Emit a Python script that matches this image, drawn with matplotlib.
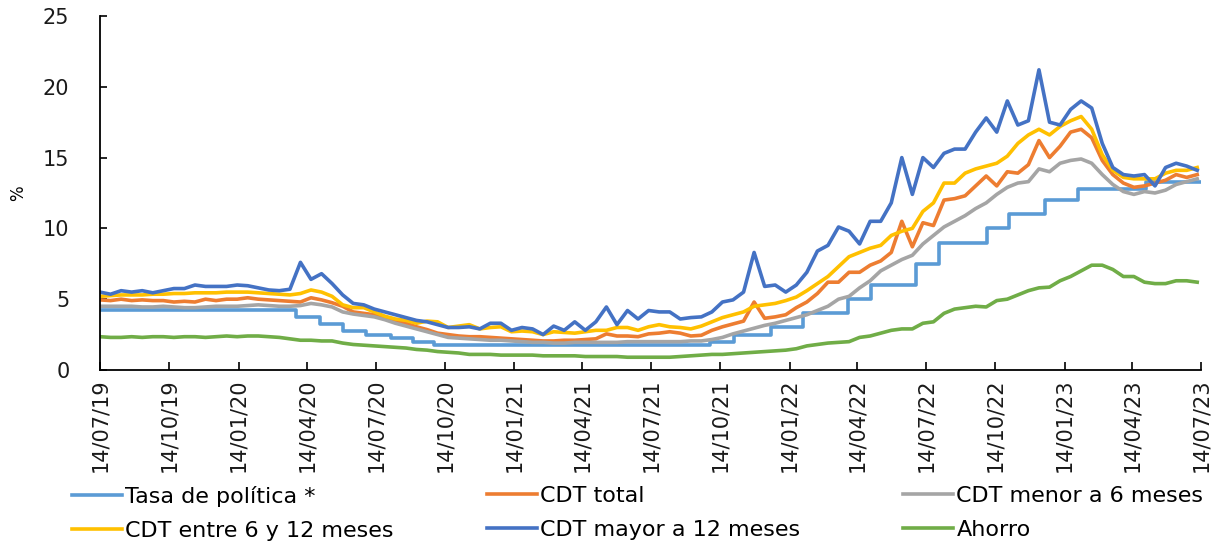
import numpy as np
import pandas as pd
import matplotlib
matplotlib.use('Agg')
import matplotlib.pyplot as plt
import matplotlib.dates as mdates

# fechas quincenales desde 14/07/19
fechas = pd.date_range('2019-07-14', periods=105, freq='14D')

# tasa de politica (fechas de cambio)
fechas_politica = pd.to_datetime([
    '2019-07-14', '2020-03-30', '2020-05-01', '2020-06-01', '2020-07-01',
    '2020-08-03', '2020-09-01', '2020-09-29', '2021-10-01', '2021-11-01',
    '2021-12-20', '2022-02-01', '2022-04-01', '2022-05-02', '2022-07-01',
    '2022-08-01', '2022-10-03', '2022-11-01', '2022-12-19', '2023-02-01',
    '2023-05-02', '2023-07-14'])
tasa_politica = [4.25, 3.75, 3.25, 2.75, 2.50, 2.25, 2.00, 1.75, 2.00, 2.50,
                 3.00, 4.00, 5.00, 6.00, 7.50, 9.00, 10.00, 11.00, 12.00, 12.75,
                 13.25, 13.25]

cdt_total = [
    4.95, 4.9, 5.0, 4.9, 4.95, 4.9, 4.9, 4.8, 4.85, 4.8, 5.0, 4.9, 5.0, 5.0, 5.1,
    5.0, 4.95, 4.9, 4.85, 4.8, 5.1, 4.95, 4.75, 4.5, 4.1, 4.0, 3.9, 3.7, 3.5, 3.3,
    3.05, 2.85, 2.6, 2.5, 2.4, 2.35, 2.35, 2.3, 2.25, 2.2, 2.15, 2.1, 2.05, 2.05, 2.1,
    2.1, 2.15, 2.2, 2.55, 2.4, 2.4, 2.35, 2.55, 2.6, 2.7, 2.6, 2.4, 2.45, 2.8, 3.05,
    3.25, 3.45, 4.8, 3.65, 3.75, 3.9, 4.4, 4.8, 5.4, 6.2, 6.2, 6.9, 6.9, 7.4, 7.7,
    8.3, 10.5, 8.7, 10.4, 10.2, 12.0, 12.1, 12.3, 13.0, 13.7, 13.0, 14.0, 13.9, 14.5, 16.2,
    15.0, 15.8, 16.8, 17.0, 16.4, 14.8, 13.8, 13.2, 12.9, 13.0, 13.2, 13.4, 13.8, 13.6, 13.8]

cdt_menor_6m = [
    4.5, 4.5, 4.5, 4.5, 4.45, 4.45, 4.5, 4.45, 4.4, 4.4, 4.45, 4.5, 4.5, 4.5, 4.55,
    4.6, 4.55, 4.5, 4.5, 4.55, 4.7, 4.6, 4.45, 4.1, 3.95, 3.85, 3.75, 3.55, 3.3, 3.1,
    2.9, 2.7, 2.5, 2.3, 2.25, 2.2, 2.15, 2.1, 2.1, 2.05, 2.0, 1.95, 1.95, 1.9, 1.9,
    1.95, 1.95, 1.95, 1.95, 1.95, 2.0, 2.0, 2.0, 2.0, 2.0, 2.0, 2.05, 2.05, 2.15, 2.3,
    2.55, 2.75, 2.95, 3.15, 3.3, 3.5, 3.7, 3.9, 4.2, 4.5, 5.0, 5.2, 5.8, 6.3, 7.0,
    7.4, 7.8, 8.1, 8.9, 9.5, 10.1, 10.5, 10.9, 11.4, 11.8, 12.4, 12.9, 13.2, 13.3, 14.2,
    14.0, 14.6, 14.8, 14.9, 14.6, 13.8, 13.1, 12.6, 12.4, 12.6, 12.5, 12.7, 13.1, 13.3, 13.5]

cdt_6_12m = [
    5.2, 5.25, 5.3, 5.3, 5.3, 5.35, 5.35, 5.4, 5.4, 5.45, 5.45, 5.45, 5.5, 5.5, 5.5,
    5.45, 5.4, 5.35, 5.3, 5.4, 5.65, 5.5, 5.2, 4.6, 4.4, 4.4, 4.1, 3.8, 3.6, 3.5,
    3.3, 3.45, 3.4, 3.0, 3.1, 3.2, 2.9, 3.0, 3.05, 2.7, 2.75, 2.7, 2.5, 2.7, 2.65,
    2.6, 2.7, 2.8, 2.8, 3.0, 3.0, 2.8, 3.05, 3.2, 3.05, 3.0, 2.9, 3.1, 3.4, 3.7,
    3.9, 4.1, 4.5, 4.6, 4.7, 4.9, 5.15, 5.6, 6.1, 6.6, 7.3, 8.0, 8.3, 8.6, 8.8,
    9.5, 9.8, 10.0, 11.2, 11.8, 13.2, 13.2, 13.9, 14.2, 14.4, 14.6, 15.1, 16.0, 16.6, 17.0,
    16.6, 17.2, 17.6, 17.9, 17.0, 15.2, 14.1, 13.6, 13.5, 13.5, 13.5, 13.9, 14.1, 14.1, 14.3]

cdt_mayor_12m = [
    5.5, 5.35, 5.6, 5.5, 5.6, 5.45, 5.6, 5.75, 5.75, 6.0, 5.9, 5.9, 5.9, 6.0, 5.95,
    5.8, 5.65, 5.6, 5.7, 7.6, 6.4, 6.8, 6.1, 5.3, 4.7, 4.6, 4.3, 4.1, 3.9, 3.7,
    3.5, 3.4, 3.2, 3.0, 3.0, 3.05, 2.9, 3.3, 3.3, 2.8, 3.0, 2.9, 2.5, 3.1, 2.8,
    3.4, 2.8, 3.4, 4.45, 3.2, 4.2, 3.6, 4.2, 4.1, 4.1, 3.6, 3.7, 3.75, 4.1, 4.8,
    4.95, 5.5, 8.3, 5.9, 6.0, 5.5, 6.0, 6.9, 8.4, 8.8, 10.1, 9.8, 8.9, 10.5, 10.5,
    11.8, 15.0, 12.4, 15.0, 14.3, 15.3, 15.6, 15.6, 16.8, 17.8, 16.8, 19.0, 17.3, 17.6, 21.2,
    17.5, 17.3, 18.4, 19.0, 18.5, 16.0, 14.3, 13.8, 13.7, 13.8, 13.0, 14.3, 14.6, 14.4, 14.1]

ahorro = [
    2.35, 2.3, 2.3, 2.35, 2.3, 2.35, 2.35, 2.3, 2.35, 2.35, 2.3, 2.35, 2.4, 2.35, 2.4,
    2.4, 2.35, 2.3, 2.2, 2.1, 2.1, 2.05, 2.05, 1.9, 1.8, 1.75, 1.7, 1.65, 1.6, 1.55,
    1.45, 1.4, 1.3, 1.25, 1.2, 1.1, 1.1, 1.1, 1.05, 1.05, 1.05, 1.05, 1.0, 1.0, 1.0,
    1.0, 0.95, 0.95, 0.95, 0.95, 0.9, 0.9, 0.9, 0.9, 0.9, 0.95, 1.0, 1.05, 1.1, 1.1,
    1.15, 1.2, 1.25, 1.3, 1.35, 1.4, 1.5, 1.7, 1.8, 1.9, 1.95, 2.0, 2.3, 2.4, 2.6,
    2.8, 2.9, 2.9, 3.3, 3.4, 4.0, 4.3, 4.4, 4.5, 4.45, 4.9, 5.0, 5.3, 5.6, 5.8,
    5.85, 6.3, 6.6, 7.0, 7.4, 7.4, 7.1, 6.6, 6.6, 6.2, 6.1, 6.1, 6.3, 6.3, 6.2]

colores = {'politica': '#5B9BD5', 'total': '#ED7D31', 'menor': '#A5A5A5',
           'entre': '#FFC000', 'mayor': '#4472C4', 'ahorro': '#70AD47'}

fig = plt.figure(figsize=(12.21, 5.44), dpi=100)
ax = fig.add_axes([0.0819, 0.3199, 0.9017, 0.6507])

lw = 2.6
l1, = ax.plot(fechas_politica, tasa_politica, drawstyle='steps-post', color=colores['politica'], lw=lw)
l2, = ax.plot(fechas, cdt_total, color=colores['total'], lw=lw)
l3, = ax.plot(fechas, cdt_menor_6m, color=colores['menor'], lw=lw)
l4, = ax.plot(fechas, cdt_6_12m, color=colores['entre'], lw=lw)
l5, = ax.plot(fechas, cdt_mayor_12m, color=colores['mayor'], lw=lw)
l6, = ax.plot(fechas, ahorro, color=colores['ahorro'], lw=lw)

ax.set_xlim(pd.Timestamp('2019-07-14'), pd.Timestamp('2023-07-14'))
ax.set_ylim(0, 25)
ax.set_yticks(range(0, 26, 5))
# ticks trimestrales el dia 14
ticks_x = [pd.Timestamp(y, m, 14) for y in range(2019, 2024) for m in (1, 4, 7, 10)
           if pd.Timestamp('2019-07-14') <= pd.Timestamp(y, m, 14) <= pd.Timestamp('2023-07-14')]
ax.set_xticks(ticks_x)
ax.xaxis.set_major_formatter(mdates.DateFormatter('%d/%m/%y'))

for s in ['top', 'right']:
    ax.spines[s].set_visible(False)
for s in ['left', 'bottom']:
    ax.spines[s].set_linewidth(1.3)
    ax.spines[s].set_color('black')

ax.tick_params(axis='y', direction='in', length=5, width=1.2, pad=22, labelsize=15, colors='black')
ax.tick_params(axis='x', direction='in', length=6, width=1.2, pad=6, labelsize=15, colors='black',
               labelrotation=90)
for lab in ax.get_yticklabels() + ax.get_xticklabels():
    lab.set_color('#1a1a1a')

ax.set_ylabel('%', fontsize=12)
ax.yaxis.set_label_coords(-0.066, 0.5)

# leyenda en tres columnas
kw = dict(frameon=False, fontsize=16, handlelength=2.25, handletextpad=0.15,
          borderpad=0, labelspacing=0.62, loc='upper left', borderaxespad=0)
ley1 = fig.legend([l1, l4], ['Tasa de política *', 'CDT entre 6 y 12 meses'],
                  bbox_to_anchor=(72 / 1221, 1 - 486 / 544), **kw)
ley2 = fig.legend([l2, l5], ['CDT total', 'CDT mayor a 12 meses'],
                  bbox_to_anchor=(487 / 1221, 1 - 486 / 544), **kw)
ley3 = fig.legend([l3, l6], ['CDT menor a 6 meses', 'Ahorro'],
                  bbox_to_anchor=(903 / 1221, 1 - 486 / 544), **kw)

fig.savefig('out.png', dpi=100)
